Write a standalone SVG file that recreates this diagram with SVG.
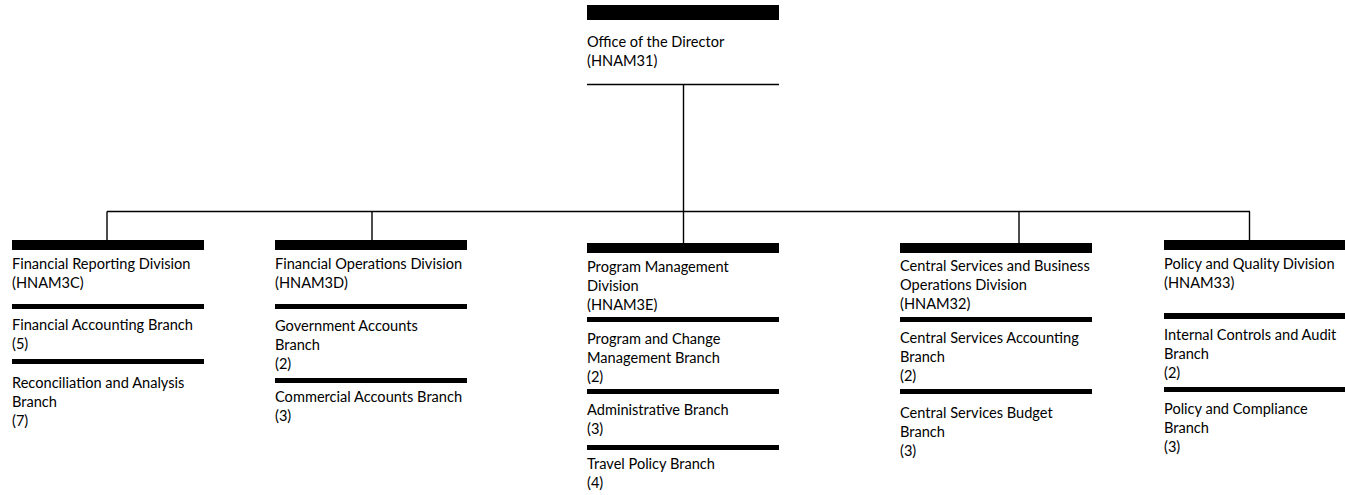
<svg xmlns="http://www.w3.org/2000/svg" width="1345" height="495" viewBox="0 0 1345 495">
<style>
text{font-family:Lato,"Open Sans","Liberation Sans",sans-serif;font-size:14.6px;fill:#000}
.bar{fill:#000}
.c{stroke:#000;stroke-width:1.4;fill:none}
</style>
<rect width="1345" height="495" fill="#fff"/>
<g id="connectors">
<line class="c" x1="683.5" y1="84" x2="683.5" y2="212"/>
<line class="c" x1="107" y1="211.5" x2="1250" y2="211.5"/>
<line class="c" x1="107" y1="211.5" x2="107" y2="240"/>
<line class="c" x1="372" y1="211.5" x2="372" y2="240"/>
<line class="c" x1="683.5" y1="211.5" x2="683.5" y2="243"/>
<line class="c" x1="1019" y1="211.5" x2="1019" y2="243"/>
<line class="c" x1="1249.5" y1="211.5" x2="1249.5" y2="240"/>
</g>
<g id="director">
<rect class="bar" x="587" y="5" width="192" height="15"/>
<text x="587" y="47">Office of the Director</text>
<text x="587" y="66">(HNAM31)</text>
<line class="c" x1="587" y1="84.5" x2="779" y2="84.5"/>
</g>
<g id="frd">
<rect class="bar" x="12" y="240" width="192" height="10"/>
<text x="12" y="269">Financial Reporting Division</text>
<text x="12" y="288">(HNAM3C)</text>
</g>
<g id="fab">
<rect class="bar" x="12" y="304" width="192" height="5"/>
<text x="12" y="330">Financial Accounting Branch</text>
<text x="12" y="349">(5)</text>
</g>
<g id="rab">
<rect class="bar" x="12" y="359" width="192" height="5"/>
<text x="12" y="388">Reconciliation and Analysis</text>
<text x="12" y="407">Branch</text>
<text x="12" y="426">(7)</text>
</g>
<g id="fod">
<rect class="bar" x="275" y="240" width="192" height="10"/>
<text x="275" y="269">Financial Operations Division</text>
<text x="275" y="288">(HNAM3D)</text>
</g>
<g id="gab">
<rect class="bar" x="275" y="304" width="192" height="5"/>
<text x="275" y="331">Government Accounts</text>
<text x="275" y="350">Branch</text>
<text x="275" y="369">(2)</text>
</g>
<g id="cab">
<rect class="bar" x="275" y="378" width="192" height="5"/>
<text x="275" y="402">Commercial Accounts Branch</text>
<text x="275" y="421">(3)</text>
</g>
<g id="pmd">
<rect class="bar" x="587" y="243" width="192" height="10"/>
<text x="587" y="272">Program Management</text>
<text x="587" y="291">Division</text>
<text x="587" y="310">(HNAM3E)</text>
</g>
<g id="pcmb">
<rect class="bar" x="587" y="317" width="192" height="5"/>
<text x="587" y="344">Program and Change</text>
<text x="587" y="363">Management Branch</text>
<text x="587" y="382">(2)</text>
</g>
<g id="ab">
<rect class="bar" x="587" y="389" width="192" height="5"/>
<text x="587" y="415">Administrative Branch</text>
<text x="587" y="434">(3)</text>
</g>
<g id="tpb">
<rect class="bar" x="587" y="445" width="192" height="5"/>
<text x="587" y="469">Travel Policy Branch</text>
<text x="587" y="488">(4)</text>
</g>
<g id="csbod">
<rect class="bar" x="900" y="243" width="192" height="10"/>
<text x="900" y="271">Central Services and Business</text>
<text x="900" y="290">Operations Division</text>
<text x="900" y="309">(HNAM32)</text>
</g>
<g id="csab">
<rect class="bar" x="900" y="317" width="192" height="5"/>
<text x="900" y="343">Central Services Accounting</text>
<text x="900" y="362">Branch</text>
<text x="900" y="381">(2)</text>
</g>
<g id="csbb">
<rect class="bar" x="900" y="389" width="192" height="5"/>
<text x="900" y="418">Central Services Budget</text>
<text x="900" y="437">Branch</text>
<text x="900" y="456">(3)</text>
</g>
<g id="pqd">
<rect class="bar" x="1164" y="240" width="192" height="10"/>
<text x="1164" y="269">Policy and Quality Division</text>
<text x="1164" y="288">(HNAM33)</text>
</g>
<g id="icab">
<rect class="bar" x="1164" y="313" width="192" height="6"/>
<text x="1164" y="340">Internal Controls and Audit</text>
<text x="1164" y="359">Branch</text>
<text x="1164" y="378">(2)</text>
</g>
<g id="pcb">
<rect class="bar" x="1164" y="387" width="192" height="5"/>
<text x="1164" y="414">Policy and Compliance</text>
<text x="1164" y="433">Branch</text>
<text x="1164" y="452">(3)</text>
</g>
</svg>
